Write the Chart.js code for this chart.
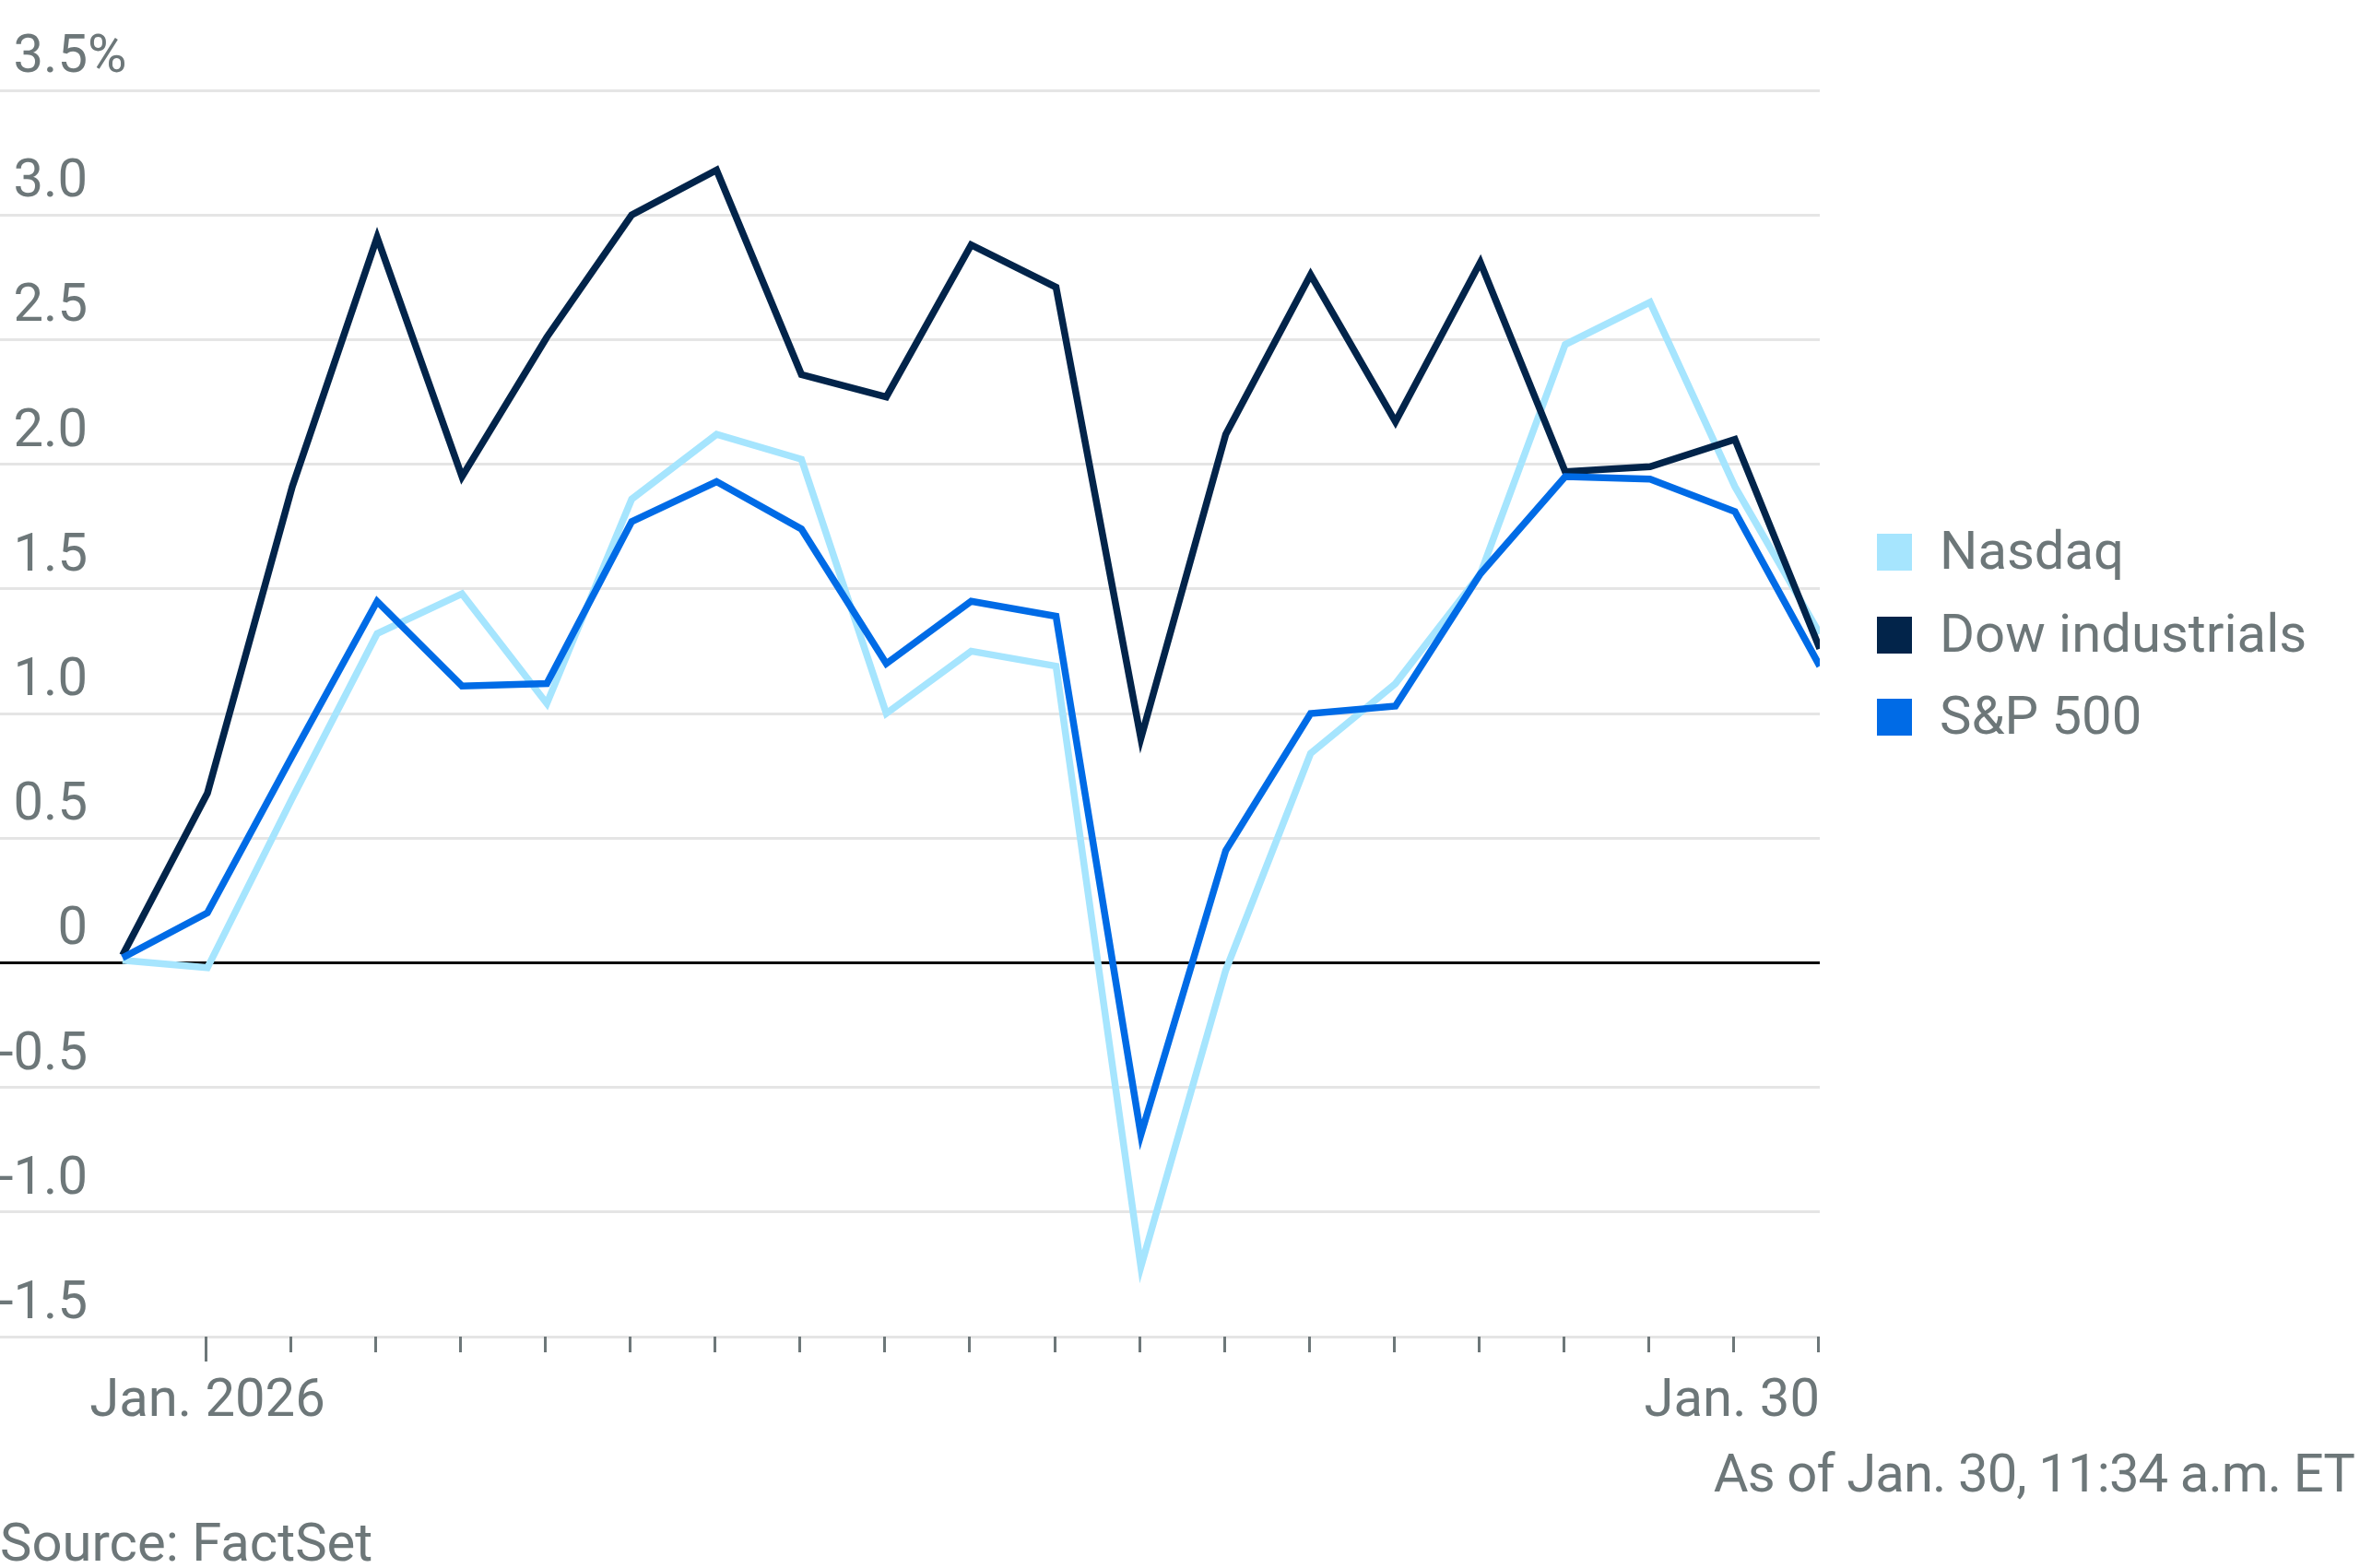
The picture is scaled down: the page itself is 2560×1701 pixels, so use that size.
<!DOCTYPE html>
<html>
<head>
<meta charset="utf-8">
<script src="https://cdn.jsdelivr.net/npm/chart.js@4.4.1/dist/chart.umd.min.js"></script>
<style>
  html, body { margin: 0; padding: 0; background: #fff; }
  #wrap { position: relative; width: 2560px; height: 1701px; font-family: Roboto, sans-serif; color: #6d7779; }
  #chart { position: absolute; left: 0; top: 0; }
  .txt { position: absolute; font-size: 58px; line-height: 58px; white-space: nowrap; }
  .key { position: absolute; left: 2036px; width: 38px; height: 40px; }
</style>
</head>
<body>
<div id="wrap">
  <canvas id="chart" width="2560" height="1701"></canvas>
  <div id="legend"></div>
  <div class="txt" style="right:6px; top:1569px; letter-spacing:-0.9px;">As of Jan. 30, 11:34 a.m. ET</div>
  <div class="txt" style="left:0; top:1644px;">Source: FactSet</div>
</div>
<script>
// trading days, Dec. 31 close through Jan. 30
const dates = ['Dec. 31', 'Jan. 2', 'Jan. 5', 'Jan. 6', 'Jan. 7', 'Jan. 8', 'Jan. 9',
  'Jan. 12', 'Jan. 13', 'Jan. 14', 'Jan. 15', 'Jan. 16', 'Jan. 20', 'Jan. 21',
  'Jan. 22', 'Jan. 23', 'Jan. 26', 'Jan. 27', 'Jan. 28', 'Jan. 29', 'Jan. 30'];

// % change since end of 2025
const nasdaq = [0.01, -0.02, 0.66, 1.32, 1.48, 1.04, 1.86, 2.12, 2.02, 1.00, 1.25,
  1.19, -1.22, -0.03, 0.84, 1.12, 1.56, 2.48, 2.65, 1.91, 1.32];
const dow = [0.03, 0.68, 1.91, 2.91, 1.95, 2.51, 3.00, 3.18, 2.36, 2.27, 2.88,
  2.71, 0.90, 2.12, 2.76, 2.17, 2.81, 1.97, 1.99, 2.10, 1.26];
const sp500 = [0.02, 0.20, 0.83, 1.45, 1.11, 1.12, 1.77, 1.93, 1.74, 1.20, 1.45,
  1.39, -0.69, 0.45, 1.00, 1.03, 1.56, 1.95, 1.94, 1.81, 1.19];

const seriesNames = ['Nasdaq', 'Dow industrials', 'S&P 500'];
const seriesColors = ['#a6e5fe', '#02244a', '#006be6'];

const xTickLabels = ['Jan. 2026', 'Jan. 30'];
const xTickDates = ['Jan. 2', 'Jan. 30'];

const GRAY = '#6d7779';
const FONT = '58px Roboto, sans-serif';

// legend
const legendEl = document.getElementById('legend');
seriesNames.forEach((name, i) => {
    const sq = document.createElement('div');
    sq.className = 'key';
    sq.style.top = (579 + i * 89.5) + 'px';
    sq.style.background = seriesColors[i];
    legendEl.appendChild(sq);
    const t = document.createElement('div');
    t.className = 'txt';
    t.style.left = '2104px';
    t.style.top = (568 + i * 89.5) + 'px';
    t.textContent = name;
    legendEl.appendChild(t);
});

const axisLabels = {
    id: 'axisLabels',
    afterDraw(chart) {
        const { ctx, scales: { x, y } } = chart;
        ctx.save();
        ctx.font = FONT;
        ctx.fillStyle = GRAY;
        ctx.textBaseline = 'alphabetic';

        // y labels sit above their gridlines, % hangs off the top one
        y.ticks.forEach((t) => {
            const py = y.getPixelForValue(t.value);
            const num = t.value === 0 ? '0' : t.value.toFixed(1);
            ctx.textAlign = 'right';
            ctx.fillText(num, 95, py - 20);
            if (t.value === y.max) {
                ctx.textAlign = 'left';
                ctx.fillText('%', 95, py - 20);
            }
        });

        // x tick marks, one per trading day in January
        const firstIdx = dates.indexOf(xTickDates[0]);
        ctx.strokeStyle = GRAY;
        ctx.lineWidth = 3;
        for (let i = 1; i < dates.length; i++) {
            const px = Math.round(x.getPixelForValue(i)) - 1.5;
            ctx.beginPath();
            ctx.moveTo(px, y.bottom);
            ctx.lineTo(px, y.bottom + (i === firstIdx ? 27 : 17));
            ctx.stroke();
        }

        xTickLabels.forEach((lab, k) => {
            const idx = dates.indexOf(xTickDates[k]);
            const px = x.getPixelForValue(idx);
            ctx.textAlign = idx === dates.length - 1 ? 'right' : 'center';
            ctx.fillText(lab, px, 1536);
        });
        ctx.restore();
    }
};

const seriesData = [nasdaq, dow, sp500];

new Chart(document.getElementById('chart'), {
    type: 'line',
    data: {
        datasets: seriesData.map((vals, i) => ({
            label: seriesNames[i],
            data: vals.map((v, j) => ({ x: j, y: v })),
            borderColor: seriesColors[i],
            backgroundColor: seriesColors[i],
            borderWidth: 7.5,
            pointRadius: 0,
            tension: 0,
            clip: 0,
            order: 3 - i,
        })),
    },
    options: {
        responsive: false,
        animation: false,
        devicePixelRatio: 1,
        layout: { padding: { top: 98, right: 586, bottom: 251, left: 0 } },
        plugins: {
            legend: { display: false },
            tooltip: { enabled: false },
        },
        scales: {
            x: {
                type: 'linear',
                display: false,
                min: -1.444,
                max: dates.length - 1,
            },
            y: {
                min: -1.5,
                max: 3.5,
                ticks: { display: false, stepSize: 0.5 },
                grid: {
                    color: (c) => (c.tick && c.tick.value === 0 ? '#000000' : '#e5e5e5'),
                    lineWidth: 3,
                    drawTicks: false,
                },
                border: { display: false },
                afterFit(scale) { scale.width = 0; },
            },
        },
    },
    plugins: [axisLabels],
});
</script>
</body>
</html>
